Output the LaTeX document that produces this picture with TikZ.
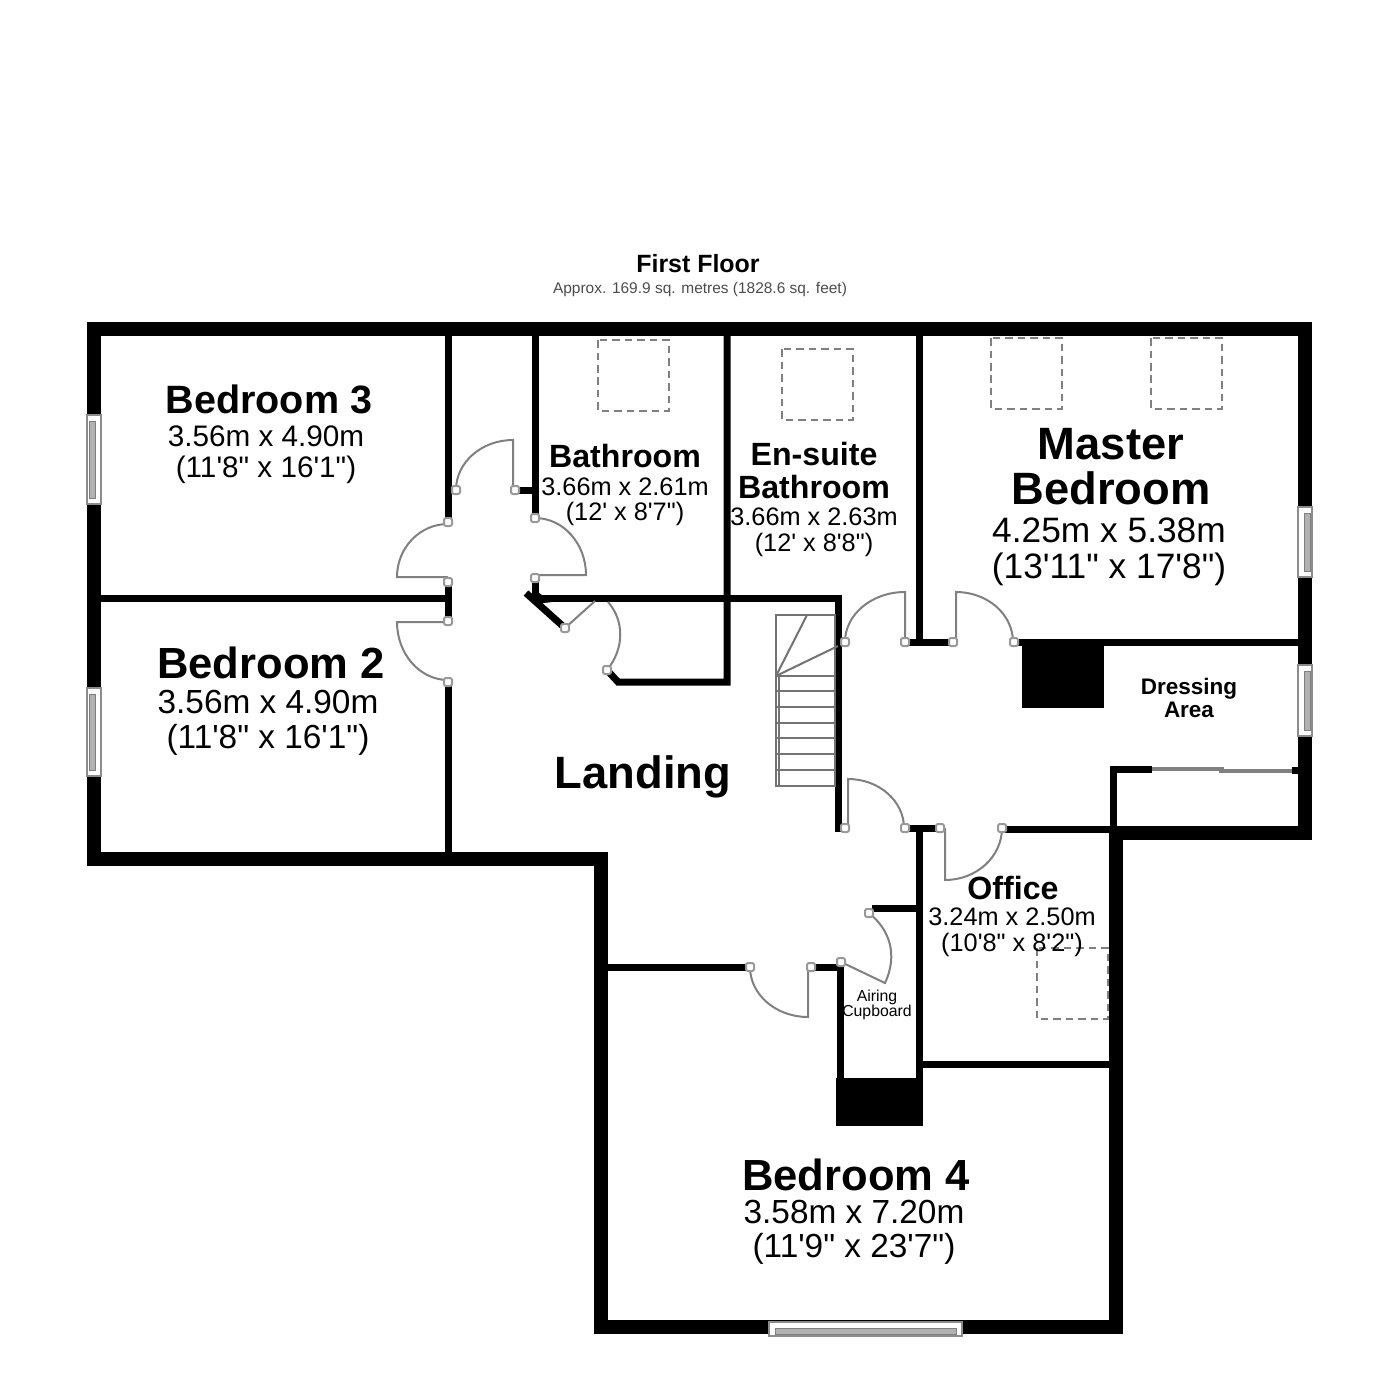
\documentclass[tikz,border=0pt]{standalone}
\usepackage{fontspec}
\setmainfont[Ligatures=TeXOff]{Liberation Sans}
\usetikzlibrary{positioning}
\tikzset{
roomname/.style={font=\bfseries\fontsize{#1}{#1}\selectfont,inner sep=0pt,execute at begin node=\strut},
roomsize/.style={font=\fontsize{#1}{#1}\selectfont,inner sep=0pt,execute at begin node=\strut},
outerwall/.style={draw=black,line width=0.28cm},
innerwall/.style={draw=black,line width=0.14cm},
doorleaf/.style={draw=black!50,line width=0.04cm},
hinge/.style={draw=black!40,fill=white,line width=0.04cm,rounded corners=0.04cm},
glazing/.style={draw=black!45,fill=white,line width=0.04cm},
pane/.style={draw=black!50,fill=black!30,line width=0.02cm},
skylight/.style={draw=black!50,line width=0.04cm,dash pattern=on 0.15cm off 0.1cm},
stairline/.style={draw=black!55,line width=0.04cm}
}
\begin{document}
\begin{tikzpicture}[x=0.02cm,y=-0.02cm,node distance=1cm,on grid]
\useasboundingbox (0,0) rectangle (1400,1400);
\draw[outerwall] (94,329) -- (1305,329) -- (1305,833) -- (1116,833) -- (1116,1327) -- (601,1327) -- (601,859) -- (94,859) -- cycle;
\draw[innerwall] (448,335) -- (448,522);
\draw[innerwall] (448,582) -- (448,622);
\draw[innerwall] (448,682) -- (448,859);
\draw[innerwall] (100,598) -- (448,598);
\draw[innerwall] (535,335) -- (535,518);
\draw[innerwall] (518,490) -- (535,490);
\draw[innerwall] (535,578) -- (535,598) -- (838,598) -- (838,832);
\draw[innerwall] (526,593) -- (565,628);
\fill[black] (532,588) -- (552,602) -- (536,604) -- cycle;
\draw[innerwall] (607,670) -- (618,682) -- (727,682) -- (727,335);
\draw[innerwall] (919,335) -- (919,642);
\draw[innerwall] (905,642) -- (953,642);
\draw[innerwall] (1014,642) -- (1305,642);
\draw[innerwall] (905,828) -- (940,828);
\draw[innerwall] (919,828) -- (919,1078);
\draw[innerwall] (1002,829) -- (1116,829);
\draw[innerwall] (1113,829) -- (1113,769) -- (1152,769);
\draw[innerwall] (1292,770) -- (1305,770);
\draw[innerwall] (872,908) -- (919,908);
\draw[innerwall] (919,1064) -- (1116,1064);
\draw[innerwall] (601,967) -- (748,967);
\draw[innerwall] (811,967) -- (840,967) -- (840,1078);
\fill[black] (836,1078) rectangle (923,1126);
\fill[black] (1022,642) rectangle (1104,708);
\foreach \wx/\wa/\wb/\pa/\pb in {94/415/504/-5/1,94/688/776/-5/1,1305/507/577/-1/5,1305/665/736/-1/5} {
\draw[glazing] (\wx-7,\wa) rectangle (\wx+7,\wb);
\draw[pane] (\wx+\pa,\wa+6) rectangle (\wx+\pb,\wb-6);
}
\draw[glazing] (769,1322) rectangle (962,1336);
\draw[pane] (775,1328) rectangle (956,1334);
\draw[doorleaf,line width=0.08cm] (1152,769) -- (1224,769);
\draw[doorleaf,line width=0.08cm] (1219,771) -- (1292,771);
\draw[doorleaf] (513,490) -- (513,440) arc (270:180:57 and 50);
\draw[doorleaf] (448,577) -- (397,577) arc (180:270:51 and 53);
\draw[doorleaf] (448,622) -- (397,622) arc (180:90:51 and 58);
\draw[doorleaf] (535,575) -- (586,575) arc (0:-90:51 and 57);
\draw[doorleaf] (905,642) -- (905,592) arc (270:180:60 and 50);
\draw[doorleaf] (956,642) -- (956,592) arc (270:360:57 and 50);
\draw[doorleaf] (848,828) -- (848,779) arc (270:360:56 and 49);
\draw[doorleaf] (945,828) -- (945,880) arc (90:0:57 and 52);
\draw[doorleaf] (808,967) -- (808,1017) arc (90:180:58 and 50);
\draw[doorleaf] (565,628) -- (595,601);
\draw[doorleaf] (608,602) .. controls (624,620) and (625,648) .. (607,670);
\draw[doorleaf] (841,962) -- (885,983) .. controls (898,955) and (890,930) .. (869,913);
\foreach \hx/\hy in {456/490,515/490,448/522,448/582,448/621,448/682,535/518,535/578,565/628,607/670,845/642,905/642,953/642,1014/642,845/828,905/828,940/828,1002/828,869/913,841/962,750/967,811/967} {
\draw[hinge] (\hx-4,\hy-4) rectangle (\hx+4,\hy+4);
}
\draw[stairline,fill=white] (776,615) rectangle (835,786);
\draw[stairline] (779,676) -- (779,786);
\foreach \ty in {676,691,707,723,738,754,770} {
\draw[stairline] (776,\ty) -- (835,\ty);
}
\draw[stairline] (776,676) -- (807,615);
\draw[stairline] (776,676) -- (838,646);
\foreach \sx/\sy in {598/340,782/349,991/338,1151/338,1037/948} {
\draw[skylight] (\sx,\sy) rectangle (\sx+71,\sy+71);
}
\node[roomname=14.2pt] (firstfloor) at (698,267) {First Floor};
\node[roomsize=8.8pt,text=black!70] (approx) [below=0.46cm of firstfloor,xshift=0.04cm] {Approx. 169.9 sq. metres (1828.6 sq. feet)};
\node[roomname=22.5pt] (bed3) at (269,405) {Bedroom 3};
\node[roomsize=16.9pt] (bed3m) [below=0.72cm of bed3,xshift=-0.06cm] {3.56m x 4.90m};
\node[roomsize=16.9pt] (bed3ft) [below=0.6cm of bed3m] {(11'8" x 16'1")};
\node[roomname=24.8pt] (bed2) at (271,669) {Bedroom 2};
\node[roomsize=19pt] (bed2m) [below=0.76cm of bed2,xshift=-0.06cm] {3.56m x 4.90m};
\node[roomsize=19pt] (bed2ft) [below=0.68cm of bed2m] {(11'8" x 16'1")};
\node[roomname=24.8pt] (bed4) at (856,1181) {Bedroom 4};
\node[roomsize=19pt] (bed4m) [below=0.72cm of bed4,xshift=-0.04cm] {3.58m x 7.20m};
\node[roomsize=19pt] (bed4ft) [below=0.66cm of bed4m] {(11'9" x 23'7")};
\node[roomname=25.8pt] (master) at (1111,450) {Master};
\node[roomname=25.8pt] (masterb) [below=0.9cm of master] {Bedroom};
\node[roomsize=20.1pt] (masterm) [below=0.8cm of masterb,xshift=-0.04cm] {4.25m x 5.38m};
\node[roomsize=20.1pt] (masterft) [below=0.72cm of masterm] {(13'11" x 17'8")};
\node[roomname=25.8pt] (landing) at (643,779) {Landing};
\node[roomname=18.3pt] (bath) at (625,461) {Bathroom};
\node[roomsize=14.4pt] (bathm) [below=0.58cm of bath] {3.66m x 2.61m};
\node[roomsize=14.4pt] (bathft) [below=0.5cm of bathm] {(12' x 8'7")};
\node[roomname=18.3pt] (ensuite) at (814,459) {En-suite};
\node[roomname=18.3pt] (ensuiteb) [below=0.66cm of ensuite] {Bathroom};
\node[roomsize=14.4pt] (ensuitem) [below=0.56cm of ensuiteb] {3.66m x 2.63m};
\node[roomsize=14.4pt] (ensuiteft) [below=0.52cm of ensuitem] {(12' x 8'8")};
\node[roomname=18.3pt] (office) at (1013,893) {Office};
\node[roomsize=14.4pt] (officem) [below=0.54cm of office,xshift=-0.02cm] {3.24m x 2.50m};
\node[roomsize=14.4pt] (officeft) [below=0.52cm of officem] {(10'8" x 8'2")};
\node[roomname=12.8pt] (dressing) at (1189,690) {Dressing};
\node[roomname=12.8pt] (dressinga) [below=0.46cm of dressing] {Area};
\node[roomsize=9pt] (airing) at (877,998) {Airing};
\node[roomsize=9pt] (airingc) [below=0.3cm of airing] {Cupboard};
\end{tikzpicture}
\end{document}
